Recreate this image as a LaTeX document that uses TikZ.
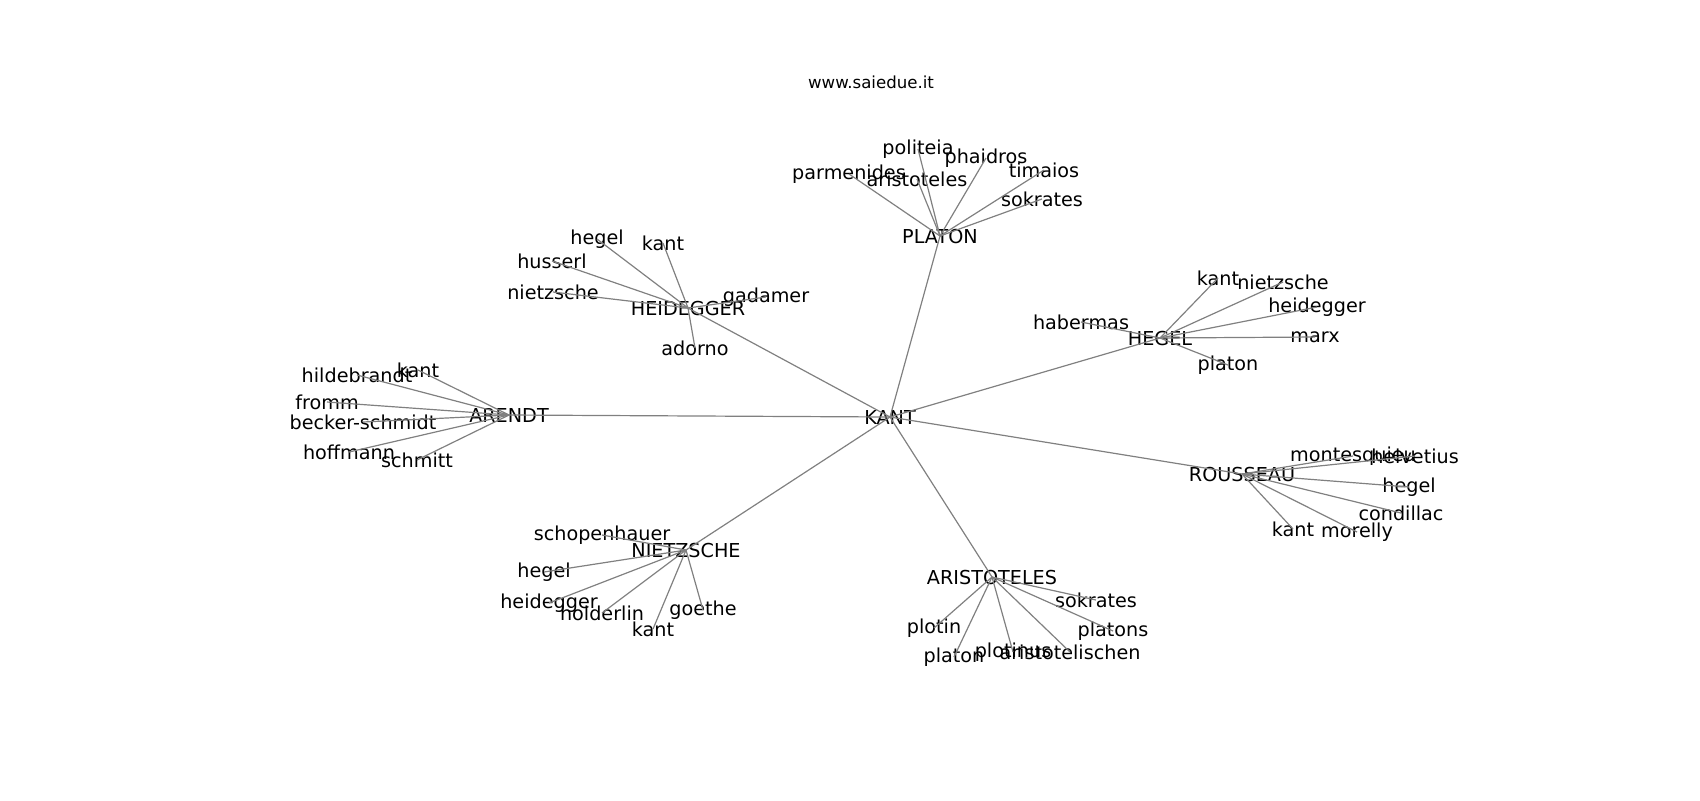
\documentclass[tikz,border=0pt]{standalone}
\usepackage{fontspec}
\setmainfont{DejaVu Sans}
\begin{document}
\begin{tikzpicture}[x=0.5pt,y=-0.5pt,
  lbl/.style={inner sep=0pt,anchor=center,font=\fontsize{9.6}{11}\selectfont,text=black},
  ttl/.style={inner sep=0pt,anchor=center,font=\fontsize{8.3}{10}\selectfont,text=black},
  edge/.style={draw=black!50,line width=0.6pt}]
\useasboundingbox (0,0) rectangle (1700,800);
\node[ttl] (title) at (871,82) {www.saiedue.it};
% hubs
\node[lbl] (kant) at (890,417) {KANT};
\node[lbl] (platon) at (940,236) {PLATON};
\node[lbl] (heidegger) at (688,308) {HEIDEGGER};
\node[lbl] (hegel) at (1160,338) {HEGEL};
\node[lbl] (arendt) at (509,415) {ARENDT};
\node[lbl] (rousseau) at (1242,474) {ROUSSEAU};
\node[lbl] (nietzsche) at (686,550) {NIETZSCHE};
\node[lbl] (aristoteles) at (992,577) {ARISTOTELES};
% platon leaves
\node[lbl] (pl1) at (918,149) {politeia};
\node[lbl] (pl2) at (986,158) {phaidros};
\node[lbl] (pl3) at (849,174) {parmenides};
\node[lbl] (pl4) at (917,179) {aristoteles};
\node[lbl] (pl5) at (1044,170) {timaios};
\node[lbl] (pl6) at (1042,199) {sokrates};
% heidegger leaves
\node[lbl] (he1) at (597,239) {hegel};
\node[lbl] (he2) at (663,243) {kant};
\node[lbl] (he3) at (552,261) {husserl};
\node[lbl] (he4) at (553,292) {nietzsche};
\node[lbl] (he5) at (766,297) {gadamer};
\node[lbl] (he6) at (695,348) {adorno};
% arendt leaves
\node[lbl] (ar1) at (357,375) {hildebrandt};
\node[lbl] (ar2) at (418,370) {kant};
\node[lbl] (ar3) at (327,402) {fromm};
\node[lbl] (ar4) at (363,422) {becker-schmidt};
\node[lbl] (ar5) at (349,452) {hoffmann};
\node[lbl] (ar6) at (417,460) {schmitt};
% hegel leaves
\node[lbl] (hg1) at (1218,278) {kant};
\node[lbl] (hg2) at (1283,282) {nietzsche};
\node[lbl] (hg3) at (1317,307) {heidegger};
\node[lbl] (hg4) at (1315,337) {marx};
\node[lbl] (hg5) at (1228,365) {platon};
\node[lbl] (hg6) at (1081,322) {habermas};
% rousseau leaves
\node[lbl] (ro1) at (1353,456) {montesquieu};
\node[lbl] (ro2) at (1415,456) {helvetius};
\node[lbl] (ro3) at (1409,487) {hegel};
\node[lbl] (ro4) at (1401,513) {condillac};
\node[lbl] (ro5) at (1293,529) {kant};
\node[lbl] (ro6) at (1357,532) {morelly};
% nietzsche leaves
\node[lbl] (ni1) at (602,535) {schopenhauer};
\node[lbl] (ni2) at (544,572) {hegel};
\node[lbl] (ni3) at (549,603) {heidegger};
\node[lbl] (ni4) at (602,613) {holderlin};
\node[lbl] (ni5) at (653,629) {kant};
\node[lbl] (ni6) at (703,610) {goethe};
% aristoteles leaves
\node[lbl] (as1) at (1096,600) {sokrates};
\node[lbl] (as2) at (1113,631) {platons};
\node[lbl] (as3) at (934,628) {plotin};
\node[lbl] (as4) at (954,657) {platon};
\node[lbl] (as5) at (1013,652) {plotinus};
\node[lbl] (as6) at (1070,652) {aristotelischen};
% edges
\foreach \h in {platon,heidegger,hegel,arendt,rousseau,nietzsche,aristoteles}
  \draw[edge] (kant.center) -- (\h.center);
\foreach \i in {1,...,6}{
  \draw[edge] (platon.center) -- (pl\i.center);
  \draw[edge] (heidegger.center) -- (he\i.center);
  \draw[edge] (arendt.center) -- (ar\i.center);
  \draw[edge] (hegel.center) -- (hg\i.center);
  \draw[edge] (rousseau.center) -- (ro\i.center);
  \draw[edge] (nietzsche.center) -- (ni\i.center);
  \draw[edge] (aristoteles.center) -- (as\i.center);
}
\end{tikzpicture}
\end{document}
